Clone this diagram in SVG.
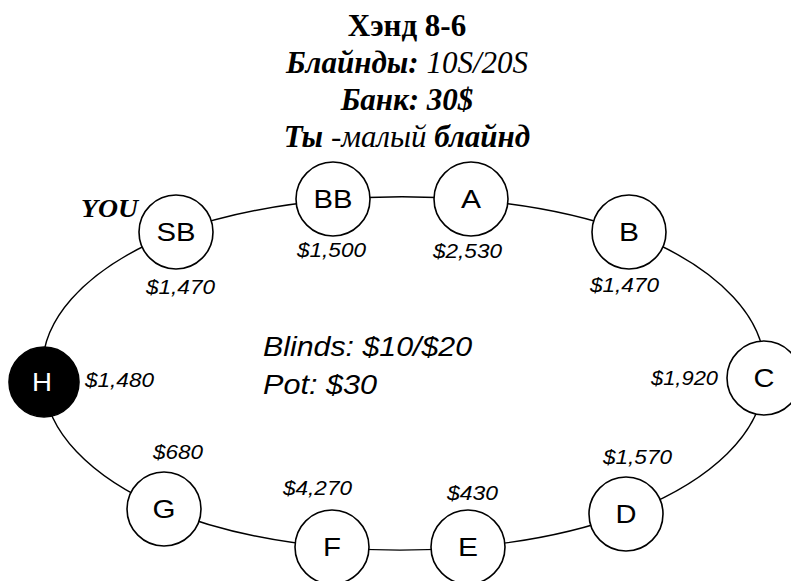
<svg xmlns="http://www.w3.org/2000/svg" width="791" height="581" viewBox="0 0 791 581">
<style>
.title{font-family:"Liberation Serif","Times New Roman",serif;font-size:31px;fill:#000;text-anchor:middle}
.bi{font-weight:bold;font-style:italic}
.it{font-style:italic;font-weight:normal}
.seat{fill:#fff;stroke:#000;stroke-width:1.6}
.seat-dark{fill:#000;stroke:#000;stroke-width:1.6}
.lbl{font-family:"Liberation Sans",Arial,sans-serif;font-size:26px;fill:#000;text-anchor:middle}
.money{font-family:"Liberation Sans",Arial,sans-serif;font-size:20px;font-style:italic;fill:#000}
.info{font-family:"Liberation Sans",Arial,sans-serif;font-size:27px;font-style:italic;fill:#000}
.conn{fill:none;stroke:#000;stroke-width:1.4}
</style>
<rect width="791" height="581" fill="#fff"/>
<g id="title">
<text class="title" x="407" y="36" font-weight="bold">Хэнд 8-6</text>
<text class="title" x="407" y="73"><tspan class="bi">Блайнды:</tspan><tspan class="it"> 10S/20S</tspan></text>
<text class="title bi" x="407" y="110">Банк: 30$</text>
<text class="title" x="407" y="147"><tspan class="bi">Ты</tspan><tspan class="it"> -малый </tspan><tspan class="bi">блайнд</tspan></text>
</g>
<g id="connectors">
<path class="conn" d="M176 232 A360 174 0 0 1 333 200"/>
<path class="conn" d="M333 200 A360 174 0 0 1 471 200"/>
<path class="conn" d="M471 200 A360 174 0 0 1 629 232"/>
<path class="conn" d="M629 232 A360 174 0 0 1 764 378"/>
<path class="conn" d="M764 378 A360 174 0 0 1 626 514"/>
<path class="conn" d="M626 514 A360 174 0 0 1 468 547"/>
<path class="conn" d="M468 547 A360 174 0 0 1 332 547"/>
<path class="conn" d="M332 547 A360 174 0 0 1 164 509"/>
<path class="conn" d="M164 509 A360 174 0 0 1 44 382"/>
<path class="conn" d="M44 382 A360 174 0 0 1 176 232"/>
</g>
<g id="center-info">
<text class="info" x="263" y="356" textLength="209" lengthAdjust="spacingAndGlyphs">Blinds: $10/$20</text>
<text class="info" x="263" y="394" textLength="114" lengthAdjust="spacingAndGlyphs">Pot: $30</text>
</g>
<g id="node-SB">
<circle class="seat" cx="176" cy="232" r="37"/>
<text class="lbl" x="176" y="241" textLength="39" lengthAdjust="spacingAndGlyphs">SB</text>
<text x="81" y="217" font-family="Liberation Serif,serif" font-size="26" font-weight="bold" font-style="italic" textLength="57" lengthAdjust="spacingAndGlyphs">YOU</text>
<text class="money" x="146" y="294" textLength="69" lengthAdjust="spacingAndGlyphs">$1,470</text>
</g>
<g id="node-BB">
<circle class="seat" cx="333" cy="199" r="37"/>
<text class="lbl" x="333" y="208" textLength="39" lengthAdjust="spacingAndGlyphs">BB</text>
<text class="money" x="297" y="257" textLength="69" lengthAdjust="spacingAndGlyphs">$1,500</text>
</g>
<g id="node-A">
<circle class="seat" cx="471" cy="199" r="37"/>
<text class="lbl" x="471" y="208" textLength="20" lengthAdjust="spacingAndGlyphs">A</text>
<text class="money" x="433" y="258" textLength="69" lengthAdjust="spacingAndGlyphs">$2,530</text>
</g>
<g id="node-B">
<circle class="seat" cx="629" cy="232" r="37"/>
<text class="lbl" x="629" y="241" textLength="20" lengthAdjust="spacingAndGlyphs">B</text>
<text class="money" x="590" y="292" textLength="69" lengthAdjust="spacingAndGlyphs">$1,470</text>
</g>
<g id="node-C">
<circle class="seat" cx="764" cy="378" r="37"/>
<text class="lbl" x="764" y="387" textLength="21" lengthAdjust="spacingAndGlyphs">C</text>
<text class="money" x="651" y="385" textLength="67" lengthAdjust="spacingAndGlyphs">$1,920</text>
</g>
<g id="node-D">
<circle class="seat" cx="626" cy="514" r="37"/>
<text class="lbl" x="626" y="523" textLength="21" lengthAdjust="spacingAndGlyphs">D</text>
<text class="money" x="603" y="464" textLength="69" lengthAdjust="spacingAndGlyphs">$1,570</text>
</g>
<g id="node-E">
<circle class="seat" cx="468" cy="547" r="37"/>
<text class="lbl" x="468" y="556" textLength="20" lengthAdjust="spacingAndGlyphs">E</text>
<text class="money" x="447" y="500" textLength="51" lengthAdjust="spacingAndGlyphs">$430</text>
</g>
<g id="node-F">
<circle class="seat" cx="332" cy="547" r="37"/>
<text class="lbl" x="332" y="556" textLength="18" lengthAdjust="spacingAndGlyphs">F</text>
<text class="money" x="283" y="495" textLength="69" lengthAdjust="spacingAndGlyphs">$4,270</text>
</g>
<g id="node-G">
<circle class="seat" cx="164" cy="509" r="37"/>
<text class="lbl" x="164" y="518" textLength="23" lengthAdjust="spacingAndGlyphs">G</text>
<text class="money" x="153" y="459" textLength="50" lengthAdjust="spacingAndGlyphs">$680</text>
</g>
<g id="node-H">
<circle class="seat-dark" cx="44" cy="382" r="35"/>
<text class="lbl" x="42" y="391" style="fill:#fff" textLength="20" lengthAdjust="spacingAndGlyphs">H</text>
<text class="money" x="85" y="387" textLength="69" lengthAdjust="spacingAndGlyphs">$1,480</text>
</g>
</svg>
